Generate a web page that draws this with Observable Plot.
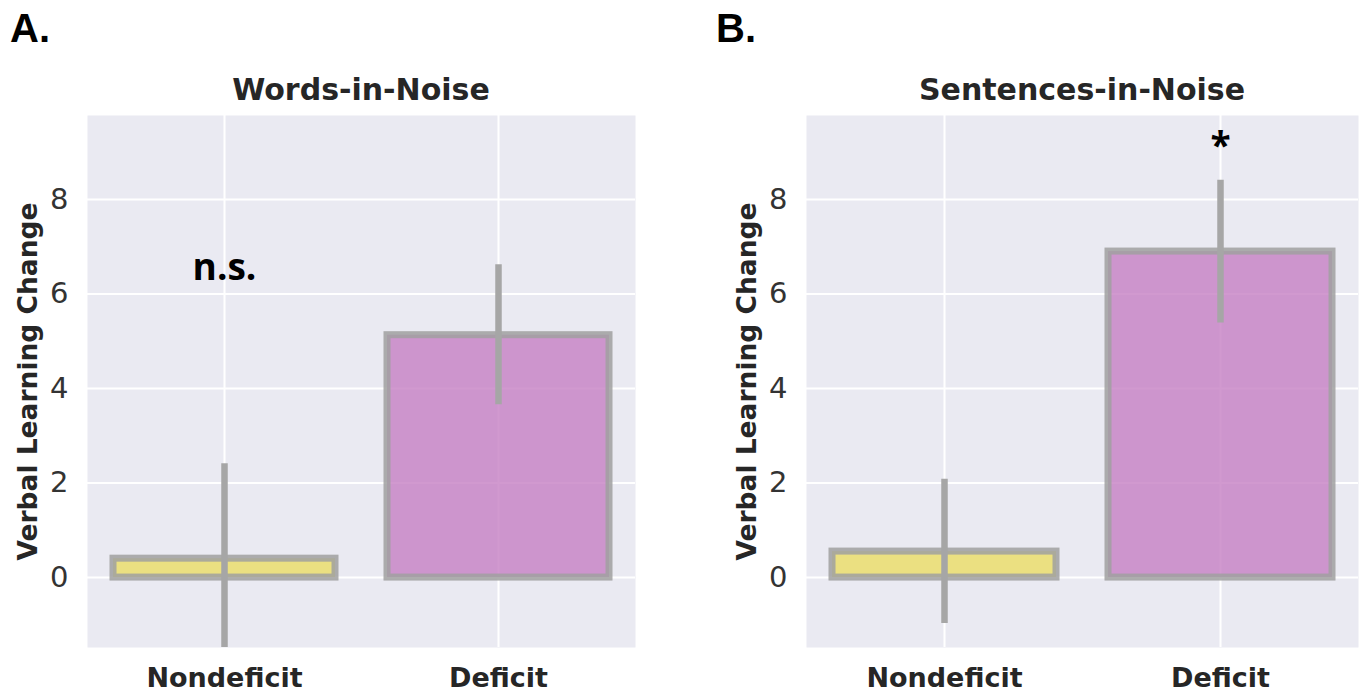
<!DOCTYPE html>
<html>
<head>
<meta charset="utf-8">
<script src="https://cdn.jsdelivr.net/npm/d3@7"></script>
<script src="https://cdn.jsdelivr.net/npm/@observablehq/plot@0.6"></script>
<style>
  html, body { margin: 0; padding: 0; background: #fff; }
  #root { position: relative; width: 1360px; height: 694px; overflow: hidden; background: #fff; }
  .panel { position: absolute; top: 0; width: 680px; height: 694px; }
  .letter { position: absolute; font-family: "Liberation Sans", Arial, sans-serif; font-weight: 700; font-size: 40px; line-height: 1; color: #000; white-space: nowrap; }
  .title { position: absolute; font-family: "DejaVu Sans", sans-serif; font-weight: 700; font-size: 30px; line-height: 1; color: #262626; text-align: center; white-space: nowrap; }
</style>
</head>
<body>
<div id="root"></div>
<script>
// ---- data ----
const groups = ["Nondeficit", "Deficit"];
const barFills = ["#ebdd64", "#c67fc3"];
const panelTitles = ["Words-in-Noise", "Sentences-in-Noise"];
const panelLetters = ["A.", "B."];
const yLabel = "Verbal Learning Change";
const yTicks = [0, 2, 4, 6, 8];
const yDomain = [-1.48, 9.78];

// Words-in-Noise
const wordsMean = [0.40, 5.13];
const wordsLow = [-1.61, 3.66];
const wordsHigh = [2.41, 6.62];
// Sentences-in-Noise
const sentMean = [0.55, 6.90];
const sentLow = [-0.97, 5.39];
const sentHigh = [2.08, 8.41];

// significance annotations
const noteLabels = ["n.s.", "*"];
const noteGroups = ["Nondeficit", "Deficit"];
const noteValues = [6.55, 9.1];

const root = document.getElementById("root");

function makePanel(idx, means, lows, highs, left, marginLeft, marginRight) {
  const data = groups.map((g, i) => ({group: g, mean: means[i], low: lows[i], high: highs[i]}));
  const note = [{group: noteGroups[idx], y: noteValues[idx], label: noteLabels[idx]}];
  const chart = Plot.plot({
    width: 680,
    height: 694,
    marginTop: 115,
    marginBottom: 47,
    marginLeft,
    marginRight,
    style: {fontFamily: "'DejaVu Sans', sans-serif", background: "transparent", color: "#333", overflow: "visible"},
    x: {type: "band", domain: groups, paddingInner: 0.19, paddingOuter: 0.095, label: null},
    y: {domain: yDomain, label: null},
    color: {domain: groups, range: barFills},
    marks: [
      Plot.frame({fill: "#eaeaf2", stroke: "none"}),
      Plot.gridY(yTicks, {stroke: "#ffffff", strokeOpacity: 1, strokeWidth: 2}),
      Plot.gridX(groups, {stroke: "#ffffff", strokeOpacity: 1, strokeWidth: 2}),
      Plot.barY(data, {x: "group", y: "mean", fill: "group", fillOpacity: 0.8, stroke: "#a0a0a0", strokeOpacity: 0.85, strokeWidth: 7}),
      Plot.ruleX(data, {x: "group", y1: "low", y2: "high", stroke: "#a6a6a6", strokeWidth: 6.5, clip: true}),
      Plot.text(note, {x: "group", y: "y", text: "label", fontFamily: "'Open Sans', sans-serif", fontWeight: "bold", fontSize: 37, fill: "#000"}),
      Plot.axisY(yTicks, {tickSize: 0, tickPadding: 19, fontSize: 29, fill: "#333", label: null}),
      Plot.axisX(groups, {tickSize: 0, tickPadding: 20, fontSize: 27, fontWeight: "bold", fill: "#262626", label: null}),
      Plot.text([yLabel], {frameAnchor: "left", rotate: -90, dx: -58.5, textAnchor: "middle", lineAnchor: "middle", fontSize: 26.5, fontWeight: "bold", fill: "#262626"})
    ]
  });
  const wrap = document.createElement("div");
  wrap.className = "panel";
  wrap.style.left = left + "px";
  wrap.appendChild(chart);
  root.appendChild(wrap);

  const plotLeft = left + marginLeft;
  const plotWidth = 680 - marginLeft - marginRight;
  const t = document.createElement("div");
  t.className = "title";
  t.textContent = panelTitles[idx];
  t.style.left = plotLeft + "px";
  t.style.width = plotWidth + "px";
  t.style.top = "75px";
  root.appendChild(t);

  const l = document.createElement("div");
  l.className = "letter";
  l.textContent = panelLetters[idx];
  l.style.left = (idx === 0 ? 10 : 716) + "px";
  l.style.top = "8px";
  root.appendChild(l);
}

makePanel(0, wordsMean, wordsLow, wordsHigh, 0, 87, 45);
makePanel(1, sentMean, sentLow, sentHigh, 680, 126, 2);
</script>
</body>
</html>
